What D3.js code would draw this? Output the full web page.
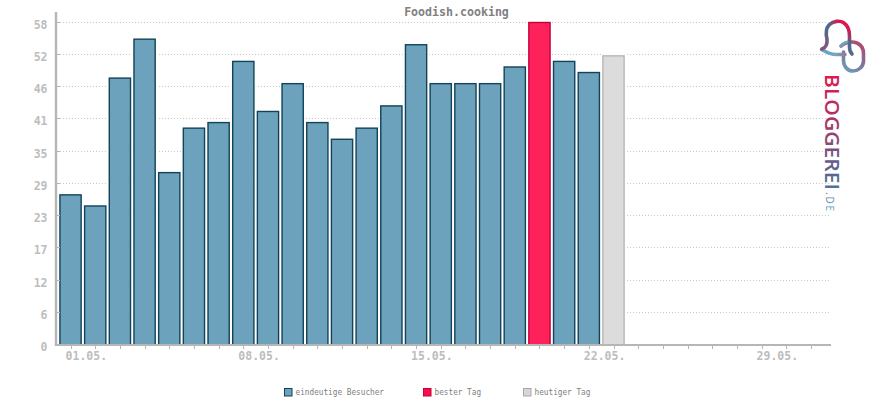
<!DOCTYPE html>
<html><head><meta charset="utf-8">
<script src="https://cdn.jsdelivr.net/npm/d3@7"></script>
<style>
html,body{margin:0;padding:0;background:#fff;}
svg{display:block;}
text{font-family:"DejaVu Sans Mono",monospace;}
</style></head><body>
<svg id="c" width="870" height="400"></svg>
<script>
const title = "Foodish.cooking";
const days = d3.range(1, 32);
const barDays = [1,2,3,4,5,6,7,8,9,10,11,12,13,14,15,16,17,18,19,20,21,22,23];
const visitors = [27,25,48,55,31,39,40,51,42,47,40,37,39,43,54,47,47,47,50,58,51,49,52];
const bestDay = 20;
const today = 23;
const yTicks = [0,5.8,11.6,17.4,23.2,29,34.8,40.6,46.4,52.2,58];
const xTickDays = days;
const xLabels = {1:"01.05.",8:"08.05.",15:"15.05.",22:"22.05.",29:"29.05."};
const legendLabels = ["eindeutige Besucher","bester Tag","heutiger Tag"];
const legendX = [284,423,523];
const fills = {normal:"#6ca2bb",best:"#ff2159",today:"#dcdcdc"};
const strokes = {normal:"#114359",best:"#c2003c",today:"#b6b6b6"};
const legendFills = ["#6ca2bb","#ff0a47","#d6d6d6"];

const svg = d3.select("#c");
const x = d3.scaleBand().domain(days).range([58.2,823.28]).paddingInner(0.14).paddingOuter(0.07);
const y = d3.scaleLinear().domain([0,58]).range([345,22.5]);
const axisCol = "#b6b6b6";

// gradients for logo
const defs = svg.append("defs");
function grad(id,x1,y1,x2,y2,stops){
  const g = defs.append("linearGradient").attr("id",id).attr("gradientUnits","userSpaceOnUse")
    .attr("x1",x1).attr("y1",y1).attr("x2",x2).attr("y2",y2);
  stops.forEach(s=>g.append("stop").attr("offset",s[0]).attr("stop-color",s[1]));
}
grad("gText",0,0,116,0,[[0,"#e0174f"],[0.45,"#a23a66"],[0.8,"#5f5f8c"],[1,"#4d7596"]]);
grad("gDe",0,0,19,0,[[0,"#4d7ea0"],[1,"#62a5c0"]]);
grad("gBell",825,50,850,22,[[0,"#8d4f78"],[0.55,"#44708f"],[0.8,"#c8204f"],[1,"#fb0f46"]]);
grad("gBase",821,50,845,52,[[0,"#62a9c2"],[0.6,"#7aa5bb"],[1,"#8f7f9c"]]);
grad("gPill",845,70,863,45,[[0,"#6a9fb6"],[0.5,"#7f7398"],[1,"#b2486f"]]);

// grid lines
svg.append("g").selectAll("line").data(yTicks.slice(1)).join("line")
  .attr("x1",57).attr("x2",830)
  .attr("y1",d=>Math.round(y(d))+0.5-1).attr("y2",d=>Math.round(y(d))+0.5-1)
  .attr("stroke","#c8c8c8").attr("stroke-width",1).attr("stroke-dasharray","1 2");

// bars
const kind = d => d===bestDay ? "best" : d===today ? "today" : "normal";
const bars = svg.append("g");
bars.selectAll("rect.halo").data(barDays).join("rect").attr("class","halo")
  .attr("x",d=>x(d)).attr("width",x.bandwidth())
  .attr("y",(d,i)=>y(visitors[i])).attr("height",(d,i)=>y(0)-y(visitors[i]))
  .attr("fill","#fff").attr("stroke","#fff").attr("stroke-width",3.5);
bars.selectAll("rect.bar").data(barDays).join("rect").attr("class","bar")
  .attr("x",d=>x(d)).attr("width",x.bandwidth())
  .attr("y",(d,i)=>y(visitors[i])).attr("height",(d,i)=>y(0)-y(visitors[i]))
  .attr("fill",d=>fills[kind(d)]).attr("stroke",d=>strokes[kind(d)]).attr("stroke-width",1.4);

// axes
const yAxis = d3.axisLeft(y).tickValues(yTicks).tickFormat(d3.format(".0f")).tickSize(0).tickPadding(0);
const gy = svg.append("g").attr("transform","translate(56,0)").call(yAxis);
gy.select(".domain").remove();
gy.selectAll("text").attr("x",-8.5).attr("dy","0.32em").attr("transform","translate(0,2)")
  .attr("fill","#bdbdbd").attr("font-size",11.5).attr("font-weight","bold")
  .style("font-family",'"DejaVu Sans Mono",monospace');
gy.selectAll(".tick line").remove();
svg.append("g").selectAll("line").data(yTicks).join("line")
  .attr("x1",57).attr("x2",60).attr("y1",d=>Math.round(y(d))-0.5).attr("y2",d=>Math.round(y(d))-0.5)
  .attr("stroke",axisCol);

const xAxis = d3.axisBottom(x).tickValues(xTickDays).tickFormat(d=>xLabels[d]||"").tickSize(0);
const gx = svg.append("g").attr("transform","translate(0,345)").call(xAxis);
gx.select(".domain").remove();
gx.selectAll(".tick line").remove();
gx.selectAll("text").attr("text-anchor","start").attr("x",-5).attr("y",7).attr("dy","0.71em")
  .attr("fill","#bdbdbd").attr("font-size",11.5).attr("font-weight","bold")
  .style("font-family",'"DejaVu Sans Mono",monospace');
svg.append("g").selectAll("line").data(xTickDays).join("line")
  .attr("x1",d=>Math.round(x(d)+x.bandwidth()/2)+0.5).attr("x2",d=>Math.round(x(d)+x.bandwidth()/2)+0.5)
  .attr("y1",345).attr("y2",349).attr("stroke",axisCol);
svg.append("line").attr("x1",55).attr("x2",831).attr("y1",344.9).attr("y2",344.9).attr("stroke",axisCol).attr("stroke-width",2);
svg.append("line").attr("x1",56).attr("x2",56).attr("y1",12).attr("y2",346).attr("stroke",axisCol).attr("stroke-width",2.4);

// title
svg.append("text").attr("x",456.5).attr("y",16).attr("text-anchor","middle")
  .attr("font-size",11.6).attr("font-weight","bold").attr("fill","#808080").text(title);

// legend
const lg = svg.append("g").selectAll("g").data(legendLabels).join("g")
  .attr("transform",(d,i)=>`translate(${legendX[i]},388)`);
lg.append("rect").attr("x",0.5).attr("y",0.5).attr("width",7.5).attr("height",7.5)
  .attr("fill",(d,i)=>legendFills[i])
  .attr("stroke",(d,i)=>[strokes.normal,strokes.best,"#a8a8a8"][i]).attr("stroke-width",1);
lg.append("text").attr("x",11.5).attr("y",7).attr("font-size",8.6).attr("fill","#808080")
  .attr("textLength",d=>d.length*4.66).attr("lengthAdjust","spacingAndGlyphs").text(d=>d);

// logo
const logo = svg.append("g").attr("fill","none").attr("stroke-linecap","round").attr("stroke-width",3.6);
logo.append("path").attr("stroke","url(#gPill)")
  .attr("d","M841 46 C845 42 852 41 857 43 C862 45 863.5 49 863.5 54 L863.5 61 C863.5 67 858 71 853 71 C847 71 843.5 66 843.5 60 L843.5 52");
logo.append("path").attr("stroke","url(#gBase)")
  .attr("d","M821.5 49.5 C826 52 830 54.5 836 54.5 L845 54.5");
logo.append("path").attr("stroke","url(#gBell)")
  .attr("d","M822 49 C826 47.5 827.5 44 827 39 C825.5 33 825.5 29 829 25 C833 21 840 20 844 23 C848.5 26 849.5 30 849.5 36 L849.5 47 C849.5 50 850 52 852 54");
logo.append("path").attr("stroke","#6ca9c0").attr("stroke-width",2.8)
  .attr("d","M841 45.5 C843 43.5 845 42.5 847 42");

svg.append("text").attr("transform","translate(824.5,74) rotate(90)")
  .attr("font-size",19.5).attr("font-weight","600").style("font-family",'"Open Sans",sans-serif')
  .attr("textLength",116).attr("lengthAdjust","spacingAndGlyphs")
  .attr("fill","url(#gText)").text("BLOGGEREI");
svg.append("text").attr("transform","translate(825.5,192) rotate(90)")
  .attr("font-size",10).style("font-family",'"Open Sans",sans-serif')
  .attr("textLength",19).attr("fill","url(#gDe)").text(".DE");
</script>
</body></html>
